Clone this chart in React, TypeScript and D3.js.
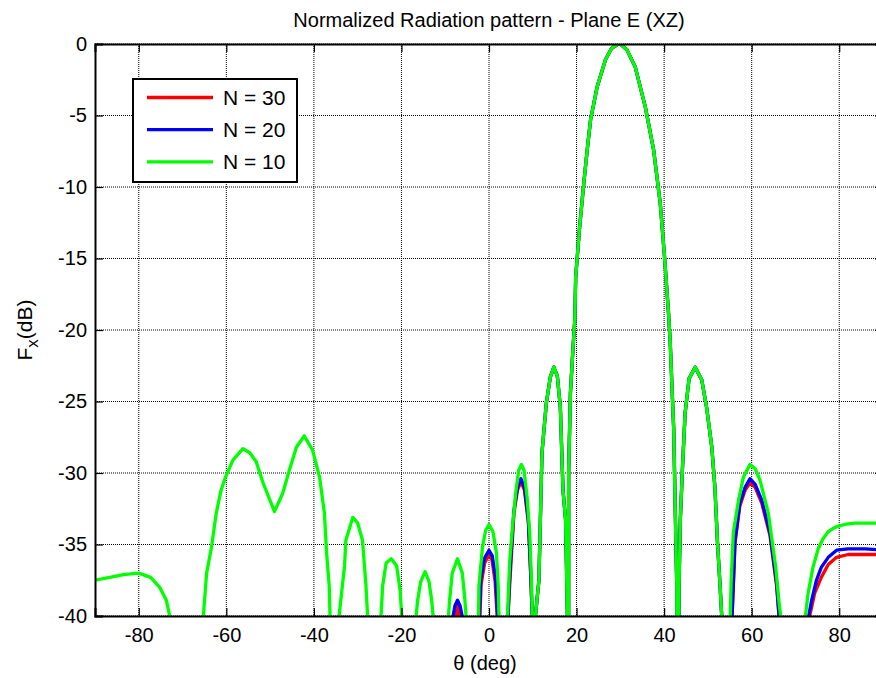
import React, { useEffect, useRef } from "react";
import * as d3 from "d3";

// axis ticks
const thetaTicks = [-80, -60, -40, -20, 0, 20, 40, 60, 80];
const dbTicks = [0, -5, -10, -15, -20, -25, -30, -35, -40];

// [theta (deg), F (dB)]; deep nulls sit far under the -40 floor
const sharedLobes = [
  [10.2, -120], [10.6, -40], [11.4, -37.5], [12.1, -28.6], [13.1, -25.1], [14, -23.3],
  [14.8, -22.6], [15.6, -23.2], [16.3, -25.4], [16.9, -31.2], [17.5, -33.3], [17.9, -39.8],
  [18.05, -120], [18.2, -29.8], [18.6, -24.4], [19.2, -21.2], [19.6, -19.3], [19.8, -16.3],
  [20.7, -12.8], [21.6, -9.9], [22.4, -7.5], [23.2, -5.3], [24.7, -3.0], [26.6, -1.1],
  [28, -0.3], [29.5, 0], [30, 0], [31.5, -0.4], [33.4, -1.6], [35.7, -4.4], [37.6, -7.4],
  [39.1, -11.1], [40.1, -14.9], [41.0, -18.8], [41.4, -20.9], [41.8, -24], [42.2, -27],
  [42.5, -31.9], [42.9, -38], [43.1, -120], [43.4, -38], [43.7, -33.3], [44.2, -29.6],
  [44.8, -25.8], [45.7, -23.4], [47.1, -22.6], [48.6, -23.5], [49.7, -25.4], [50.9, -28.2],
  [51.6, -31], [52.2, -34.9], [52.8, -38], [53.2, -40.2], [54.2, -120],
];

const n10Left = [
  [-90, -37.5], [-86.6, -37.3], [-83.5, -37.1], [-80, -37.0], [-77.3, -37.3], [-75.2, -38.0],
  [-73.7, -38.9], [-72.8, -40.2], [-69, -120], [-65.3, -40.2], [-64.5, -37.0], [-63.4, -35.2],
  [-62.3, -32.8], [-61.2, -31.2], [-60.2, -30.3], [-58.5, -29.1], [-56.2, -28.3], [-54.6, -28.6],
  [-53.2, -29.2], [-51.6, -30.7], [-49, -32.7], [-47.1, -31.4], [-45.6, -29.8], [-44.0, -28.2],
  [-42.2, -27.4], [-40.3, -28.4], [-38.7, -30.3], [-37.6, -32.8], [-37.1, -35.6], [-36.5, -37.9],
  [-36.3, -40.2], [-35.3, -120], [-34.3, -40.2], [-34.0, -39.3], [-33.0, -36.5], [-32.7, -34.7],
  [-31.1, -33.1], [-30.0, -33.5], [-28.9, -34.7], [-28.1, -37.9], [-27.7, -40.2], [-26.2, -120],
  [-24.7, -40.2], [-24.3, -37.9], [-23.5, -36.3], [-22.3, -36.0], [-21.1, -36.5], [-20.3, -38.2],
  [-19.9, -40.2], [-18.3, -120], [-16.7, -40.2], [-16.3, -38.9], [-15.6, -37.6], [-14.6, -36.9],
  [-13.7, -37.6], [-13.1, -38.9], [-12.7, -40.2], [-11, -120], [-9.3, -40.2], [-9.0, -38.9],
  [-8.4, -37.0], [-7.2, -36.0], [-6.1, -37.0], [-5.5, -38.9], [-5.2, -40.2], [-3.8, -120],
  [-2.4, -40.2], [-2.3, -37.9], [-1.5, -35.2], [-0.75, -34.0], [0, -33.6], [0.9, -34.1],
  [1.7, -35.6], [2.1, -37.9], [2.3, -40.2], [3.2, -120], [4.2, -40.2], [4.7, -36.3],
  [5.3, -34.0], [6.1, -31.4], [6.8, -29.8], [7.4, -29.4], [8.0, -29.8], [8.7, -31.7],
  [9.3, -34.2], [9.7, -37.5], [9.9, -40.2],
];
const n10Right = [
  [55.1, -40.2], [55.3, -37.7], [55.8, -34.2], [57, -31.9], [58.1, -30.3], [59.6, -29.4],
  [60.8, -29.7], [61.9, -30.5], [63.8, -32.8], [65.5, -36.6], [66.2, -38.9], [66.7, -40.2],
  [69.5, -120], [72.2, -40.2], [72.9, -38.4], [74, -36.6], [75.2, -35.3], [76.3, -34.6],
  [77.5, -34.1], [79, -33.8], [81.2, -33.6], [83.5, -33.5], [90, -33.5],
];

const n20Left = [
  [-90, -120], [-9.5, -120], [-8.3, -40.2], [-7.8, -39.3], [-7.2, -38.9], [-6.6, -39.3],
  [-6.0, -40.2], [-4, -120], [-2.2, -40.2], [-1.9, -37.5], [-1.1, -36.0], [0, -35.4],
  [0.75, -35.8], [1.5, -37.3], [2.0, -40.2], [3, -120], [4.3, -40.2], [4.8, -36.8],
  [5.7, -32.6], [6.5, -31.0], [7.3, -30.4], [8.1, -31.0], [9.0, -33.3], [9.5, -36.8],
  [9.9, -40.2],
];
const n20Right = [
  [55.5, -40.2], [56.2, -34.7], [57.3, -32.1], [58.5, -31.0], [59.6, -30.4], [60.8, -30.8],
  [62.3, -31.9], [64.2, -34.2], [65.7, -37.7], [66.3, -40.2], [69.8, -120], [72.9, -40.2],
  [73.7, -38.9], [74.8, -37.5], [75.9, -36.6], [77.5, -35.9], [79.4, -35.4], [82, -35.3],
  [86, -35.3], [90, -35.4],
];

const n30Left = [
  [-90, -120], [-9, -120], [-7.7, -40.2], [-7.2, -39.35], [-6.7, -40.2], [-4, -120],
  [-2.1, -40.2], [-1.8, -37.8], [-1.0, -36.3], [0, -35.7], [0.7, -36.1], [1.4, -37.6],
  [1.9, -40.2], [3, -120], [4.3, -40.2], [4.9, -36.9], [5.7, -32.8], [6.5, -31.2],
  [7.3, -30.6], [8.1, -31.2], [9.0, -33.5], [9.5, -37.0], [9.9, -40.2],
];
const n30Right = [
  [55.5, -40.2], [56.2, -34.9], [57.3, -32.3], [58.5, -31.2], [59.6, -30.7], [60.8, -31.0],
  [62.3, -32.1], [64.2, -34.4], [65.7, -37.9], [66.3, -40.2], [69.8, -120], [73.1, -40.2],
  [74.4, -38.4], [75.9, -37.3], [77.5, -36.4], [79.4, -35.9], [82, -35.7], [86, -35.7],
  [90, -35.7],
];

const seriesNames = ["N = 30", "N = 20", "N = 10"];
const seriesColors = ["#ff0000", "#0000ff", "#00ff00"];
const seriesData = [
  [...n30Left, ...sharedLobes, ...n30Right],
  [...n20Left, ...sharedLobes, ...n20Right],
  [...n10Left, ...sharedLobes, ...n10Right],
];

const FONT = "'Liberation Sans', Arial, Helvetica, sans-serif";

export default function App() {
  const svgRef = useRef(null);
  const width = 876;
  const height = 678;

  useEffect(() => {
    const svg = d3.select(svgRef.current);
    svg.selectAll("*").remove();

    // plot box (right edge falls outside the picture, like the reference)
    const margin = { top: 44, left: 95 };
    const plotW = 788;
    const plotH = 572;

    const x = d3.scaleLinear().domain([-90, 90]).range([0, plotW]);
    const y = d3.scaleLinear().domain([-40, 0]).range([plotH, 0]);

    svg.append("rect").attr("width", width).attr("height", height).attr("fill", "#fff");

    svg.append("defs")
      .append("clipPath")
      .attr("id", "plotClip")
      .append("rect")
      .attr("width", plotW)
      .attr("height", plotH);

    const g = svg.append("g").attr("transform", `translate(${margin.left},${margin.top})`);

    // dotted grid
    g.selectAll(".vgrid")
      .data(thetaTicks)
      .enter()
      .append("line")
      .attr("x1", (d) => x(d))
      .attr("x2", (d) => x(d))
      .attr("y1", 0)
      .attr("y2", plotH)
      .attr("stroke", "#000")
      .attr("stroke-width", 1)
      .attr("stroke-dasharray", "1,1");
    g.selectAll(".hgrid")
      .data(dbTicks)
      .enter()
      .append("line")
      .attr("x1", 0)
      .attr("x2", plotW)
      .attr("y1", (d) => y(d))
      .attr("y2", (d) => y(d))
      .attr("stroke", "#000")
      .attr("stroke-width", 1)
      .attr("stroke-dasharray", "1,1");

    // curves
    const line = d3
      .line()
      .x((d) => x(d[0]))
      .y((d) => y(d[1]));

    const curves = g.append("g").attr("clip-path", "url(#plotClip)");
    seriesData.forEach((data, i) => {
      curves
        .append("path")
        .datum(data)
        .attr("fill", "none")
        .attr("stroke", seriesColors[i])
        .attr("stroke-width", 3.3)
        .attr("stroke-linejoin", "round")
        .attr("d", line);
    });

    // axes box and inner ticks
    const tickLen = 8;
    const fmt = (d) => String(d);
    const xAxisB = d3.axisBottom(x).tickValues(thetaTicks).tickSize(-tickLen).tickPadding(12).tickFormat(fmt);
    const yAxisL = d3.axisLeft(y).tickValues(dbTicks).tickSize(-tickLen).tickPadding(8).tickFormat(fmt);

    const bottom = g.append("g").attr("transform", `translate(0,${plotH})`).call(xAxisB);
    const left = g.append("g").call(yAxisL);
    g.append("g").call(d3.axisTop(x).tickValues(thetaTicks).tickSize(-tickLen).tickFormat(() => ""));
    g.append("g")
      .attr("transform", `translate(${plotW},0)`)
      .call(d3.axisRight(y).tickValues(dbTicks).tickSize(-tickLen).tickFormat(() => ""));

    g.selectAll(".domain").attr("stroke", "#000").attr("stroke-width", 2);
    g.selectAll(".tick line").attr("stroke", "#000").attr("stroke-width", 1.2);
    [bottom, left].forEach((a) =>
      a.selectAll("text").attr("font-family", FONT).attr("font-size", 20).attr("fill", "#000")
    );

    // title and labels
    svg.append("text")
      .attr("x", margin.left + plotW / 2)
      .attr("y", 27)
      .attr("text-anchor", "middle")
      .attr("font-family", FONT)
      .attr("font-size", 20)
      .text("Normalized Radiation pattern - Plane E (XZ)");

    svg.append("text")
      .attr("x", margin.left + plotW / 2 - 4)
      .attr("y", 670)
      .attr("text-anchor", "middle")
      .attr("font-family", FONT)
      .attr("font-size", 20)
      .text("θ (deg)");

    const yl = svg.append("text")
      .attr("transform", `translate(32,${margin.top + plotH / 2}) rotate(-90)`)
      .attr("text-anchor", "middle")
      .attr("font-family", FONT)
      .attr("font-size", 21);
    yl.append("tspan").text("F");
    yl.append("tspan").attr("dy", 6).attr("font-size", 17).text("x");
    yl.append("tspan").attr("dy", -6).text("(dB)");

    // legend
    const lg = svg.append("g").attr("transform", "translate(133,79)");
    lg.append("rect")
      .attr("width", 164)
      .attr("height", 103)
      .attr("fill", "#fff")
      .attr("stroke", "#000")
      .attr("stroke-width", 2);
    seriesNames.forEach((name, i) => {
      const cy = 18.5 + i * 32.2;
      lg.append("line")
        .attr("x1", 14)
        .attr("x2", 80)
        .attr("y1", cy)
        .attr("y2", cy)
        .attr("stroke", seriesColors[i])
        .attr("stroke-width", 3.3);
      lg.append("text")
        .attr("x", 90)
        .attr("y", cy)
        .attr("dy", "0.36em")
        .attr("font-family", FONT)
        .attr("font-size", 21)
        .text(name);
    });
  }, []);

  return (
    <svg
      ref={svgRef}
      width={width}
      height={height}
      style={{ position: "absolute", left: 0, top: 0, overflow: "hidden" }}
    ></svg>
  );
}
